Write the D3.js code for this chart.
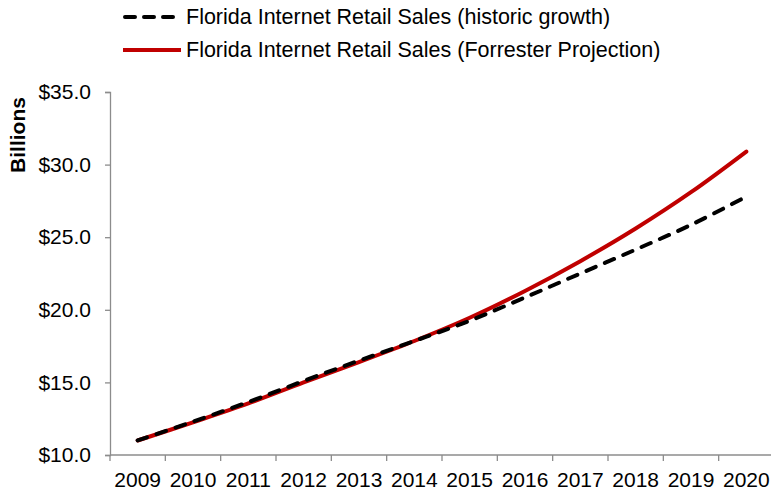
<!DOCTYPE html>
<html>
<head>
<meta charset="utf-8">
<script src="https://cdn.jsdelivr.net/npm/d3@7"></script>
<style>
  html, body { margin: 0; padding: 0; background: #fff; }
  svg { display: block; font-family: Arial, "Liberation Sans", sans-serif; }
</style>
</head>
<body>
<svg id="chart" width="771" height="494"></svg>
<script>
// Florida internet retail sales, billions of dollars
const years = ["2009","2010","2011","2012","2013","2014","2015","2016","2017","2018","2019","2020"];
const historicGrowth = [11.0, 12.3, 13.65, 15.1, 16.5, 17.85, 19.25, 20.85, 22.5, 24.15, 25.85, 27.8];
const forresterProjection = [11.0, 12.25, 13.55, 15.0, 16.4, 17.85, 19.45, 21.3, 23.35, 25.6, 28.1, 30.9];
const yTicks = [10, 15, 20, 25, 30, 35];
const seriesNames = [
  "Florida Internet Retail Sales (historic growth)",
  "Florida Internet Retail Sales (Forrester Projection)"
];

const svg = d3.select("#chart");
const axisColor = "#8c8c8c";
const fontSize = 21;

const x = d3.scaleBand().domain(years).range([110, 774]);
const y = d3.scaleLinear().domain([10, 35]).range([455, 92]);

// Y axis
const yAxis = svg.append("g").attr("transform", "translate(110,0)")
  .call(d3.axisLeft(y).tickValues(yTicks).tickSize(5).tickFormat(d => "$" + d3.format(".1f")(d)));
yAxis.select(".domain").attr("stroke", axisColor).attr("stroke-width", 1.3);
yAxis.selectAll(".tick line").attr("stroke", axisColor).attr("stroke-width", 1.3);
yAxis.selectAll(".tick text").attr("fill", "#000").attr("font-size", fontSize)
  .attr("font-family", "Arial, 'Liberation Sans', sans-serif").attr("x", -19);

// X axis: labels at band centres, ticks at band boundaries
const xAxis = svg.append("g").attr("transform", "translate(0,455)");
xAxis.append("line").attr("x1", 110).attr("x2", 771).attr("y1", 0).attr("y2", 0)
  .attr("stroke", axisColor).attr("stroke-width", 1.3);
xAxis.selectAll("line.tick").data(years).join("line").attr("class", "tick")
  .attr("x1", d => x(d)).attr("x2", d => x(d)).attr("y1", 0).attr("y2", 6)
  .attr("stroke", axisColor).attr("stroke-width", 1.3);
xAxis.selectAll("text").data(years).join("text")
  .attr("x", d => x(d) + x.bandwidth() / 2).attr("y", 32)
  .attr("text-anchor", "middle").attr("font-size", fontSize).attr("fill", "#000")
  .text(d => d);

// Y axis title
svg.append("text")
  .attr("transform", "translate(25,135) rotate(-90)")
  .attr("text-anchor", "middle").attr("font-size", fontSize).attr("font-weight", "bold")
  .text("Billions");

// Lines
const line = d3.line()
  .x((d, i) => x(years[i]) + x.bandwidth() / 2)
  .y(d => y(d))
  .curve(d3.curveCatmullRom.alpha(0.5));

svg.append("path").datum(forresterProjection)
  .attr("d", line).attr("fill", "none")
  .attr("stroke", "#c00000").attr("stroke-width", 4).attr("stroke-linecap", "round");

svg.append("path").datum(historicGrowth)
  .attr("d", line).attr("fill", "none")
  .attr("stroke", "#000").attr("stroke-width", 4)
  .attr("stroke-dasharray", "10,10").attr("stroke-linecap", "round");

// Legend
const legend = svg.append("g");
legend.append("line").attr("x1", 125).attr("x2", 173).attr("y1", 17).attr("y2", 17)
  .attr("stroke", "#000").attr("stroke-width", 4).attr("stroke-dasharray", "10,9")
  .attr("stroke-linecap", "round");
legend.append("line").attr("x1", 123).attr("x2", 181).attr("y1", 50).attr("y2", 50)
  .attr("stroke", "#c00000").attr("stroke-width", 4);
legend.selectAll("text").data(seriesNames).join("text")
  .attr("x", 186).attr("y", (d, i) => 24 + i * 33)
  .attr("font-size", 21.5).attr("fill", "#000")
  .text(d => d);
</script>
</body>
</html>
